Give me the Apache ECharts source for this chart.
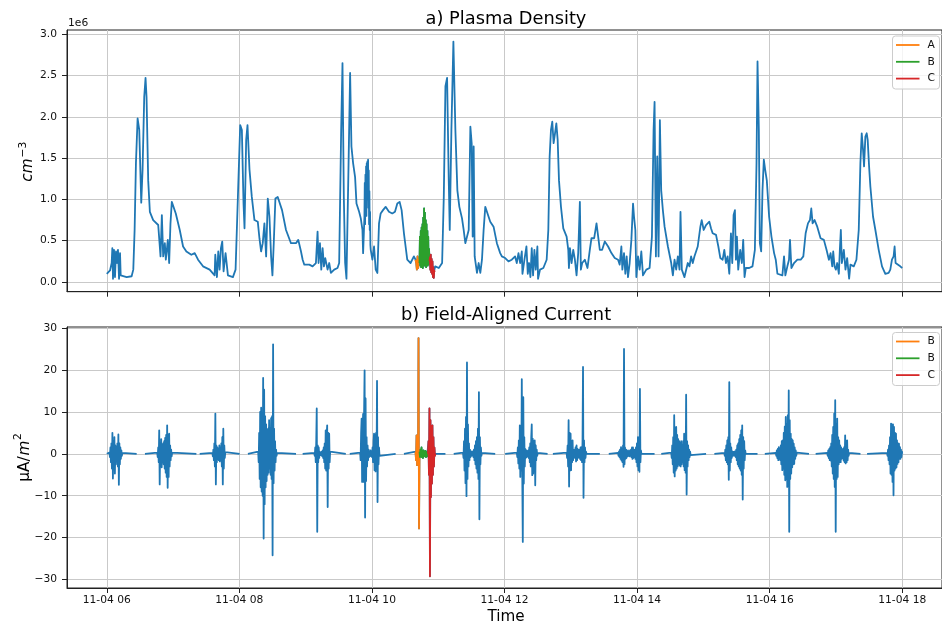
<!DOCTYPE html>
<html>
<head>
<meta charset="utf-8">
<script src="https://cdn.jsdelivr.net/npm/echarts@6/dist/echarts.min.js"></script>
<style>
  html, body { margin: 0; padding: 0; background: #fff; }
  #chart { width: 942px; height: 625px; }
</style>
</head>
<body>
<div id="chart"></div>
<script>
// ---------------------------------------------------------------
// Plasma density along the pass, [hour UT on 11-04, density in 1e6 cm^-3]
// ---------------------------------------------------------------
const densityBefore = [
  [6.000,0.10],[6.049,0.14],[6.074,0.23],[6.084,0.41],[6.094,0.04],[6.109,0.39],[6.124,0.06],[6.139,0.37],
  [6.154,0.23],[6.169,0.39],[6.185,0.04],[6.200,0.35],[6.210,0.08],[6.225,0.07],[6.300,0.06],[6.375,0.07],
  [6.400,0.15],[6.420,0.63],[6.440,1.44],[6.465,1.98],[6.490,1.84],[6.520,0.96],[6.540,1.36],[6.565,2.24],
  [6.585,2.47],[6.600,2.24],[6.625,1.23],[6.650,0.85],[6.700,0.75],[6.776,0.69],[6.801,0.67],[6.811,0.31],
  [6.831,0.81],[6.851,0.31],[6.876,0.47],[6.891,0.27],[6.921,0.51],[6.941,0.23],[6.961,0.71],[6.981,0.97],
  [7.001,0.95],[7.041,0.83],[7.101,0.63],[7.151,0.43],[7.201,0.37],[7.276,0.33],[7.327,0.35],[7.352,0.37],
  [7.377,0.27],[7.452,0.19],[7.552,0.15],[7.627,0.08],[7.637,0.33],[7.662,0.06],[7.682,0.37],[7.702,0.15],
  [7.722,0.41],[7.742,0.49],[7.762,0.13],[7.792,0.35],[7.828,0.08],[7.903,0.06],[7.943,0.15],[7.978,1.03],
  [8.013,1.90],[8.038,1.84],[8.063,0.95],[8.078,0.65],[8.103,1.72],[8.123,1.90],[8.153,1.36],[8.188,1.03],
  [8.228,0.75],[8.278,0.73],[8.303,0.53],[8.328,0.37],[8.353,0.47],[8.378,0.71],[8.404,0.31],[8.429,1.01],
  [8.454,0.79],[8.479,0.31],[8.499,0.08],[8.519,0.47],[8.544,1.01],[8.579,1.03],[8.604,1.01],[8.644,0.87],
  [8.704,0.63],[8.779,0.47],[8.854,0.47],[8.889,0.51],[8.930,0.37],[8.955,0.27],[8.980,0.21],[9.055,0.21],
  [9.105,0.19],[9.130,0.17],[9.155,0.23],[9.180,0.61],[9.195,0.23],[9.216,0.47],[9.236,0.15],[9.256,0.41],
  [9.276,0.19],[9.296,0.29],[9.331,0.15],[9.356,0.23],[9.381,0.11],[9.431,0.15],[9.481,0.17],[9.506,0.23],
  [9.536,1.84],[9.556,2.65],[9.576,1.03],[9.596,0.23],[9.616,0.04],[9.646,1.36],[9.671,2.53],[9.691,1.64],
  [9.716,1.44],[9.746,1.27],[9.767,0.95],[9.807,0.85],[9.832,0.77],[9.857,0.63],[9.867,0.35],[9.887,0.79],
  [9.892,1.20],[9.897,0.70],[9.902,1.30],[9.907,0.90],[9.912,1.40],[9.917,0.80],[9.922,1.44],[9.927,1.00],
  [9.932,1.46],[9.937,1.10],[9.942,1.48],[9.947,0.90],[9.952,1.35],[9.957,0.70],[9.962,1.10],[9.967,0.63],
  [9.972,0.85],[9.977,0.45],[9.982,0.39],[10.007,0.27],[10.032,0.43],
  [10.057,0.15],[10.082,0.11],[10.107,0.71],[10.132,0.83],[10.167,0.87],[10.207,0.91],[10.257,0.85],[10.307,0.83],
  [10.348,0.85],[10.383,0.95],[10.418,0.97],[10.448,0.87],[10.483,0.59],[10.508,0.43],[10.533,0.27],[10.583,0.23],
  [10.608,0.25],[10.633,0.31]
];
// highlighted intervals A, B, C
const densityA = [[10.658,0.27],[10.668,0.23],[10.678,0.15],[10.688,0.31],[10.698,0.17],[10.708,0.27],[10.718,0.23]];
const densityB = [
  [10.724,0.55],[10.730,0.20],[10.737,0.62],[10.743,0.18],[10.749,0.66],[10.755,0.22],[10.762,0.70],[10.768,0.17],
  [10.774,0.78],[10.780,0.25],[10.787,0.89],[10.793,0.20],[10.799,0.84],[10.805,0.22],[10.812,0.75],[10.818,0.18],
  [10.824,0.70],[10.830,0.25],[10.837,0.62],[10.843,0.20],[10.849,0.55],[10.855,0.22],[10.862,0.40],[10.868,0.25]
];
const densityC = [
  [10.875,0.30],[10.881,0.15],[10.888,0.33],[10.894,0.12],[10.901,0.28],[10.907,0.10],[10.914,0.25],[10.920,0.06],
  [10.927,0.18],[10.933,0.05],[10.940,0.14],[10.946,0.12]
];
const densityAfter = [
  [10.955,0.19],[11.009,0.17],[11.059,0.23],[11.084,1.03],[11.109,2.37],[11.134,2.47],[11.159,1.23],[11.174,0.63],
  [11.199,1.84],[11.229,2.91],[11.259,1.84],[11.289,1.11],[11.319,0.91],[11.359,0.77],[11.384,0.63],[11.409,0.47],
  [11.435,0.55],[11.460,0.63],[11.485,1.88],[11.505,1.68],[11.520,0.55],[11.535,1.64],[11.550,0.31],[11.585,0.11],
  [11.610,0.23],[11.635,0.11],[11.660,0.27],[11.685,0.63],[11.710,0.91],[11.735,0.85],[11.785,0.73],[11.835,0.67],
  [11.885,0.47],[11.935,0.35],[11.960,0.31],[12.010,0.29],[12.060,0.25],[12.110,0.27],[12.160,0.31],[12.185,0.23],
  [12.211,0.35],[12.236,0.23],[12.261,0.37],[12.271,0.10],[12.301,0.27],[12.331,0.43],[12.351,0.10],[12.371,0.23],
  [12.391,0.06],[12.411,0.41],[12.431,0.08],[12.451,0.39],[12.471,0.15],[12.496,0.43],[12.506,0.04],[12.536,0.15],
  [12.586,0.17],[12.636,0.27],[12.661,0.63],[12.681,1.52],[12.701,1.84],[12.721,1.94],[12.741,1.68],[12.762,1.80],
  [12.782,1.92],[12.802,1.72],[12.822,1.23],[12.852,0.91],[12.887,0.65],[12.937,0.55],[12.962,0.39],[12.972,0.17],
  [12.987,0.41],[13.012,0.23],[13.037,0.39],[13.062,0.27],[13.087,0.08],[13.112,0.35],[13.137,0.97],[13.152,0.15],
  [13.172,0.23],[13.212,0.27],[13.252,0.17],[13.287,0.39],[13.312,0.53],[13.353,0.53],[13.388,0.71],[13.413,0.55],
  [13.438,0.39],[13.473,0.39],[13.513,0.49],[13.563,0.43],[13.613,0.35],[13.663,0.29],[13.713,0.27],[13.738,0.21],
  [13.763,0.43],[13.778,0.15],[13.803,0.35],[13.823,0.10],[13.843,0.31],[13.863,0.06],[13.888,0.23],[13.914,0.51],
  [13.939,0.95],[13.954,0.79],[13.974,0.63],[13.989,0.06],[14.014,0.31],[14.039,0.15],[14.064,0.37],[14.089,0.08],
  [14.139,0.15],[14.189,0.17],[14.224,0.55],[14.249,1.84],[14.264,2.18],[14.284,0.31],[14.304,1.52],[14.324,0.31],
  [14.344,1.96],[14.364,1.11],[14.389,0.87],[14.415,0.67],[14.465,0.43],[14.515,0.23],[14.540,0.08],[14.565,0.27],
  [14.590,0.15],[14.615,0.31],[14.640,0.15],[14.655,0.85],[14.675,0.15],[14.715,0.06],[14.765,0.23],[14.790,0.19],
  [14.815,0.31],[14.840,0.23],[14.865,0.31],[14.915,0.43],[14.955,0.67],[14.975,0.75],[15.005,0.63],[15.040,0.69],
  [15.090,0.73],[15.115,0.65],[15.140,0.59],[15.191,0.57],[15.226,0.43],[15.256,0.29],[15.291,0.27],[15.316,0.39],
  [15.341,0.23],[15.366,0.31],[15.391,0.10],[15.416,0.59],[15.436,0.23],[15.456,0.81],[15.476,0.87],[15.491,0.27],
  [15.506,0.55],[15.526,0.15],[15.556,0.39],[15.581,0.23],[15.601,0.51],[15.621,0.06],[15.641,0.17],[15.691,0.17],
  [15.741,0.19],[15.777,0.39],[15.802,1.44],[15.817,2.67],[15.837,1.84],[15.852,0.47],[15.872,0.37],[15.892,1.11],
  [15.912,1.48],[15.932,1.36],[15.957,1.23],[15.992,0.79],[16.027,0.55],[16.067,0.35],[16.092,0.27],[16.117,0.10],
  [16.192,0.08],[16.217,0.31],[16.237,0.08],[16.267,0.19],[16.292,0.27],[16.307,0.51],[16.328,0.17],[16.368,0.23],
  [16.418,0.27],[16.468,0.27],[16.508,0.31],[16.543,0.59],[16.578,0.71],[16.608,0.75],[16.628,0.89],[16.648,0.71],
  [16.678,0.75],[16.718,0.67],[16.768,0.53],[16.818,0.51],[16.858,0.39],[16.894,0.27],[16.919,0.35],[16.944,0.19],
  [16.959,0.37],[16.979,0.19],[16.999,0.15],[17.019,0.23],[17.044,0.10],[17.059,0.39],[17.074,0.63],[17.089,0.23],
  [17.119,0.39],[17.144,0.15],[17.169,0.29],[17.199,0.04],[17.219,0.21],[17.269,0.19],[17.309,0.27],[17.344,0.63],
  [17.369,1.44],[17.389,1.80],[17.409,1.60],[17.424,1.40],[17.444,1.76],[17.464,1.80],[17.479,1.72],[17.500,1.40],
  [17.520,1.15],[17.560,0.79],[17.595,0.63],[17.645,0.39],[17.695,0.19],[17.745,0.10],[17.795,0.11],[17.820,0.15],
  [17.845,0.27],[17.870,0.31],[17.885,0.43],[17.900,0.23],[17.920,0.21],[17.970,0.19],[18.000,0.17]
];

// ---------------------------------------------------------------
// Field-aligned current, µA/m^2. Bursts are sampled at a fixed cadence.
// ---------------------------------------------------------------
const FAC_STEP_H = 0.0075;            // cadence inside a burst, hours
const facSpan = [6.0, 18.0];          // first / last sample, hours UT
const facGaps = [                     // data gaps (hours UT)
  [6.451,6.576],[7.352,7.402],[8.004,8.129],[8.855,8.955],[9.606,9.666],[10.358,10.483],
  [11.109,11.234],[11.860,12.010],[12.650,12.730],[13.438,13.573],[14.264,14.365],
  [15.041,15.166],[15.817,15.927],[16.593,16.694],[17.370,17.470]
];
const facBurstStart = [6.040, 6.761, 7.593, 8.284, 9.130, 9.822, 11.374, 12.186,
                       12.937, 13.713, 14.515, 15.316, 16.093, 16.869, 17.771];
const facBurstValues = [
  [0.3,-0.8,1.5,-2.0,2.5,-3.5,5.0,-5.9,3.0,-2.5,4.0,-4.7,2.0,-2.5,1.5,-1.8,2.5,-3.0,4.6,-7.4,2.5,-2.5,1.5,-1.2,0.8,-0.5,0.2],
  [0.3,-0.8,1.5,-2.0,5.6,-7.3,2.5,-3.0,3.5,-3.2,2.0,-2.0,2.5,-2.5,3.0,-3.5,3.8,-4.5,4.5,-5.5,6.8,-8.1,4.5,-5.5,4.8,-3.0,2.0,-1.5,1.0,-0.6,0.3],
  [0.2,-0.6,1.0,-1.5,2.5,-3.0,9.6,-7.3,2.0,-2.0,1.5,-1.2,1.0,-1.5,2.0,-1.8,1.2,-1.5,2.5,-3.0,4.0,-7.3,6.0,-3.5,2.0,-1.0,0.4],
  [0.5,-2.0,5.0,-6.0,10.0,-8.0,11.0,-9.0,8.0,-10.0,18.1,-20.2,15.3,-12.0,9.0,-8.0,7.0,-6.5,5.5,-5.0,6.0,-4.5,8.0,-3.5,6.0,-5.0,8.5,-6.0,9.0,-24.2,26.1,-7.0,6.0,-4.0,3.0,-2.0,1.0,-0.5,0.2],
  [0.2,-0.5,1.5,-2.0,3.0,10.8,-18.6,2.0,-2.0,1.5,-1.0,0.5,-0.3,0.2,-0.3,0.5,-0.6,0.8,-1.0,1.5,-2.0,2.5,-3.5,5.6,-4.0,4.5,6.8,-12.7,5.0,-3.5,4.8,-2.0,0.5],
  [0.3,-1.5,5.0,8.4,-6.7,6.0,9.5,-6.7,10.0,19.9,-15.2,13.2,-6.5,4.0,-3.0,2.0,-1.5,1.0,-0.8,0.5,-0.5,0.8,-0.6,0.5,-0.8,1.5,-2.0,3.0,4.8,-3.9,4.5,-4.2,5.0,-3.5,17.4,-11.5,4.0,-2.5,1.5,-0.5],
  [0.3,-1.0,3.0,-4.0,6.0,-7.0,8.8,-10.1,21.8,-6.0,7.0,-3.0,2.5,-1.5,1.0,-0.8,0.5,-0.5,0.6,-0.4,0.5,-0.8,1.0,-1.5,2.0,-2.5,3.0,-3.5,4.0,-4.5,6.0,-6.0,14.7,-15.6,4.0,-2.5,1.5,-0.5,0.2],
  [0.3,-0.8,1.5,-2.3,3.2,-3.5,6.8,-5.5,6.0,-4.0,17.8,-6.0,-21.0,13.5,-7.1,4.0,-3.0,1.2,-1.0,0.8,-0.8,0.6,-0.5,0.8,-1.0,1.5,-2.0,2.5,-3.0,4.0,7.0,-5.1,3.6,-4.7,3.0,-3.5,3.2,-7.5,2.0,-1.5,1.0,-0.5,0.2],
  [0.3,-1.0,2.0,-3.0,8.0,-7.8,5.0,-4.0,4.8,-3.9,3.0,-2.0,3.2,-1.5,1.0,-0.8,1.0,-1.0,1.5,-1.8,2.0,-1.5,1.2,-1.0,0.8,-0.8,1.0,-1.2,1.5,-1.5,1.6,-2.0,3.0,20.7,-10.5,3.2,-2.0,1.5,-1.0,0.5,0.0],
  [0.2,-0.5,0.6,-0.8,1.0,-1.2,1.6,-1.6,1.2,-2.0,2.0,-3.1,25.0,-2.5,1.5,-1.2,1.0,-1.0,0.8,-0.6,0.5,-0.5,0.8,-0.6,0.5,-0.5,1.0,-0.8,1.5,-1.2,1.5,-1.0,0.8,-0.8,1.0,-1.2,1.5,-2.0,2.5,-3.0,4.0,-3.9,3.0,-4.3,15.5,-2.0,0.8,0.0],
  [0.3,-1.0,2.0,-2.5,4.0,-4.5,9.2,-5.4,6.0,-4.0,6.4,-3.5,4.5,-3.0,3.5,-2.5,3.0,-2.8,2.5,-3.0,3.0,-2.5,2.0,-2.0,3.0,-3.0,4.8,-3.9,4.0,-4.5,14.1,-9.7,3.0,-3.0,2.0,-1.5,1.0,-0.8,0.5,-0.3,0.1],
  [0.2,-0.5,1.0,-1.5,2.0,-2.0,3.2,-2.5,4.0,-6.2,17.1,-4.0,2.5,-2.0,1.5,-1.0,0.6,-0.5,0.4,-0.4,0.5,-0.5,0.6,-0.8,1.0,-1.5,2.0,-2.5,2.5,-3.0,3.5,-3.5,4.5,-4.0,5.6,-5.0,6.8,-10.9,4.0,-3.5,3.0,-1.5,0.8,0.0],
  [0.2,-0.5,0.8,-1.0,1.2,-1.5,1.6,-1.2,1.0,-1.5,2.0,-2.5,3.0,-3.9,3.2,-3.5,5.0,-5.0,6.5,-6.3,8.8,-6.0,7.0,-7.9,9.2,-7.0,15.1,-18.6,8.0,-6.0,4.8,-4.7,3.5,-3.2,3.2,-2.5,2.4,-2.4,1.5,-1.2,0.8,-0.5,0.3,0.0],
  [0.2,-0.5,0.8,-1.0,1.2,-1.5,1.6,-1.6,2.5,-3.0,4.5,-4.7,6.4,-6.0,9.6,-7.9,12.8,-18.6,7.0,-6.0,8.4,-5.5,4.0,-2.5,3.2,-2.0,2.0,-2.0,1.5,-1.2,1.0,-1.0,1.2,-1.6,1.6,-2.0,4.4,-2.3,3.0,-2.0,3.2,-1.5,1.0,-0.5,0.2],
  [0.2,-0.5,1.0,-1.5,2.0,-2.5,4.0,-4.7,7.2,-5.0,7.0,-6.7,7.0,-9.9,6.4,-4.0,5.0,-3.5,4.8,-3.2,3.2,-2.4,2.5,-2.0,2.4,-1.2,1.6,-1.2,1.0,-0.8,0.5]
];
// highlighted current intervals
const facAStart = 10.658;
const facAValues = [0.5,-1.5,4.4,-2.7,3.5,-2.0,27.6,-17.8,0.5];
const facBStart = 10.7255;
const facBValues = [-0.8,1.0,-0.5,1.5,-0.8,0.6,-1.0,0.8,-0.6,0.5,-0.5,0.7,-0.8,0.4,-0.6,0.3,0.0];
const facCStart = 10.853;
const facCValues = [3.0,-5.0,10.8,-29.2,8.0,-10.3,6.5,-7.1,6.8,-5.0,4.0,-3.0,1.5,-0.5,0.0];

// axes
const timeTicks = [6, 8, 10, 12, 14, 16, 18];
const densityTicks = [0, 0.5, 1.0, 1.5, 2.0, 2.5, 3.0];
const currentTicks = [-30, -20, -10, 0, 10, 20, 30];
const topLegendNames = ['A', 'B', 'C'];
const bottomLegendNames = ['B', 'B', 'C'];

// ---------------------------------------------------------------
const FONT = '"DejaVu Sans", "Liberation Sans", sans-serif';
const BLUE = '#1f77b4';
const HILITE = ['#ff7f0e', '#2ca02c', '#d62728'];
const INK = '#111';

function burstPoints(start, values) {
  return values.map((v, i) => [+(start + i * FAC_STEP_H).toFixed(5), v]);
}

const facA = burstPoints(facAStart, facAValues);
const facB = burstPoints(facBStart, facBValues);
const facC = burstPoints(facCStart, facCValues);

function buildCurrent() {
  const pts = [];
  facBurstStart.forEach((s, k) => pts.push(...burstPoints(s, facBurstValues[k])));
  pts.push(...facA, ...facB, ...facC);
  const edges = [facSpan[0]];
  facGaps.forEach(g => edges.push(g[0], g[1]));
  edges.push(facSpan[1]);
  edges.forEach(e => pts.push([e, 0]));
  facGaps.forEach(g => pts.push([(g[0] + g[1]) / 2, '-']));
  pts.sort((a, b) => a[0] - b[0]);
  return pts;
}

const densityAll = [...densityBefore, ...densityA, ...densityB, ...densityC, ...densityAfter];
const currentAll = buildCurrent();

function fmtMinus(v) { return String(v).replace('-', '\u2212'); }

function xAxisFor(gi, withLabels) {
  return {
    type: 'value', gridIndex: gi, min: 5.4, max: 18.6,
    axisLine: { show: true, onZero: false, lineStyle: { color: '#222', width: 1 } },
    axisTick: { show: true, customValues: timeTicks, length: 5, lineStyle: { color: '#222', width: 1 } },
    axisLabel: {
      show: withLabels, customValues: timeTicks, margin: 7,
      color: INK, fontSize: 10.7, fontFamily: FONT,
      formatter: v => '11-04 ' + String(v).padStart(2, '0')
    },
    splitLine: { show: true, lineStyle: { color: '#c9c9c9', width: 1 } }
  };
}

function yAxisFor(gi, min, max, ticks, fmt) {
  return {
    type: 'value', gridIndex: gi, min: min, max: max,
    axisLine: { show: true, onZero: false, lineStyle: { color: '#222', width: 1 } },
    axisTick: { show: true, customValues: ticks, length: 5, lineStyle: { color: '#222', width: 1 } },
    axisLabel: { show: true, customValues: ticks, margin: 10, color: INK, fontSize: 10.7, fontFamily: FONT, formatter: fmt },
    splitLine: { show: true, lineStyle: { color: '#c9c9c9', width: 1 } }
  };
}

function lineSeries(name, data, color, xi, z) {
  return {
    type: 'line', name: name, data: data, xAxisIndex: xi, yAxisIndex: xi,
    showSymbol: false, symbol: 'none', connectNulls: false, silent: true, z: z,
    lineStyle: { color: color, width: 1.8, join: 'round' }, itemStyle: { color: color }
  };
}

function legendGraphics(names, top) {
  const els = [{
    type: 'rect', shape: { x: 892.5, y: top, width: 47, height: 53, r: 3 },
    style: { fill: 'rgba(255,255,255,0.8)', stroke: '#cccccc', lineWidth: 1 }, z: 50
  }];
  names.forEach((n, i) => {
    const y = top + 9 + i * 16.8;
    els.push({ type: 'line', shape: { x1: 896, y1: y, x2: 919.5, y2: y },
      style: { stroke: HILITE[i], lineWidth: 1.8 }, z: 51 });
    els.push({ type: 'text', x: 927.5, y: y,
      style: { text: n, fill: INK, fontSize: 10.7, fontFamily: FONT, align: 'left', verticalAlign: 'middle' }, z: 51 });
  });
  return els;
}

const chart = echarts.init(document.getElementById('chart'), null, { renderer: 'canvas' });
chart.setOption({
  animation: false,
  backgroundColor: '#fff',
  textStyle: { fontFamily: FONT },
  grid: [
    { left: 67, top: 30, width: 878.5, height: 261.7, show: true, borderColor: '#222', borderWidth: 1, containLabel: false },
    { left: 67, top: 327, width: 878.5, height: 261, show: true, borderColor: '#222', borderWidth: 1, containLabel: false }
  ],
  xAxis: [xAxisFor(0, false), xAxisFor(1, true)],
  yAxis: [
    yAxisFor(0, -0.117, 3.05, densityTicks, v => v.toFixed(1)),
    yAxisFor(1, -32.0, 30.24, currentTicks, v => fmtMinus(v))
  ],
  series: [
    lineSeries('Plasma density', densityAll, BLUE, 0, 2),
    lineSeries('A', densityA, HILITE[0], 0, 3),
    lineSeries('B', [densityA[densityA.length - 1], ...densityB], HILITE[1], 0, 3),
    lineSeries('C', [densityB[densityB.length - 1], ...densityC], HILITE[2], 0, 3),
    lineSeries('Field-aligned current', currentAll, BLUE, 1, 2),
    lineSeries('B (orange)', facA, HILITE[0], 1, 3),
    lineSeries('B', [facA[facA.length - 1], ...facB], HILITE[1], 1, 3),
    lineSeries('C', [facB[facB.length - 1], ...facC], HILITE[2], 1, 3)
  ],
  graphic: [
    { type: 'text', x: 506, y: 19.5, style: { text: 'a) Plasma Density', fontSize: 17.8, fontFamily: FONT, fill: '#000', align: 'center', verticalAlign: 'middle' } },
    { type: 'text', x: 506, y: 315.5, style: { text: 'b) Field-Aligned Current', fontSize: 17.8, fontFamily: FONT, fill: '#000', align: 'center', verticalAlign: 'middle' } },
    { type: 'text', x: 506, y: 617, style: { text: 'Time', fontSize: 15.2, fontFamily: FONT, fill: '#000', align: 'center', verticalAlign: 'middle' } },
    { type: 'text', x: 68, y: 23.5, style: { text: '1e6', fontSize: 10.7, fontFamily: FONT, fill: INK, align: 'left', verticalAlign: 'middle' } },
    // y-axis titles, rotated to read upward
    { type: 'text', x: 28.5, y: 170, rotation: Math.PI / 2, style: { text: 'cm', fontSize: 15.3, fontStyle: 'italic', fontFamily: FONT, fill: '#000', align: 'center', verticalAlign: 'middle' } },
    { type: 'text', x: 23, y: 149.5, rotation: Math.PI / 2, style: { text: '\u22123', fontSize: 10.7, fontFamily: FONT, fill: '#000', align: 'center', verticalAlign: 'middle' } },
    { type: 'text', x: 25.5, y: 469, rotation: Math.PI / 2, style: { text: '\u03bcA/', fontSize: 15.3, fontFamily: FONT, fill: '#000', align: 'center', verticalAlign: 'middle' } },
    { type: 'text', x: 25.5, y: 448, rotation: Math.PI / 2, style: { text: 'm', fontSize: 15.3, fontStyle: 'italic', fontFamily: FONT, fill: '#000', align: 'center', verticalAlign: 'middle' } },
    { type: 'text', x: 18.5, y: 436.5, rotation: Math.PI / 2, style: { text: '2', fontSize: 10.7, fontFamily: FONT, fill: '#000', align: 'center', verticalAlign: 'middle' } },
    ...legendGraphics(topLegendNames, 36),
    ...legendGraphics(bottomLegendNames, 332.5)
  ]
});
</script>
</body>
</html>
